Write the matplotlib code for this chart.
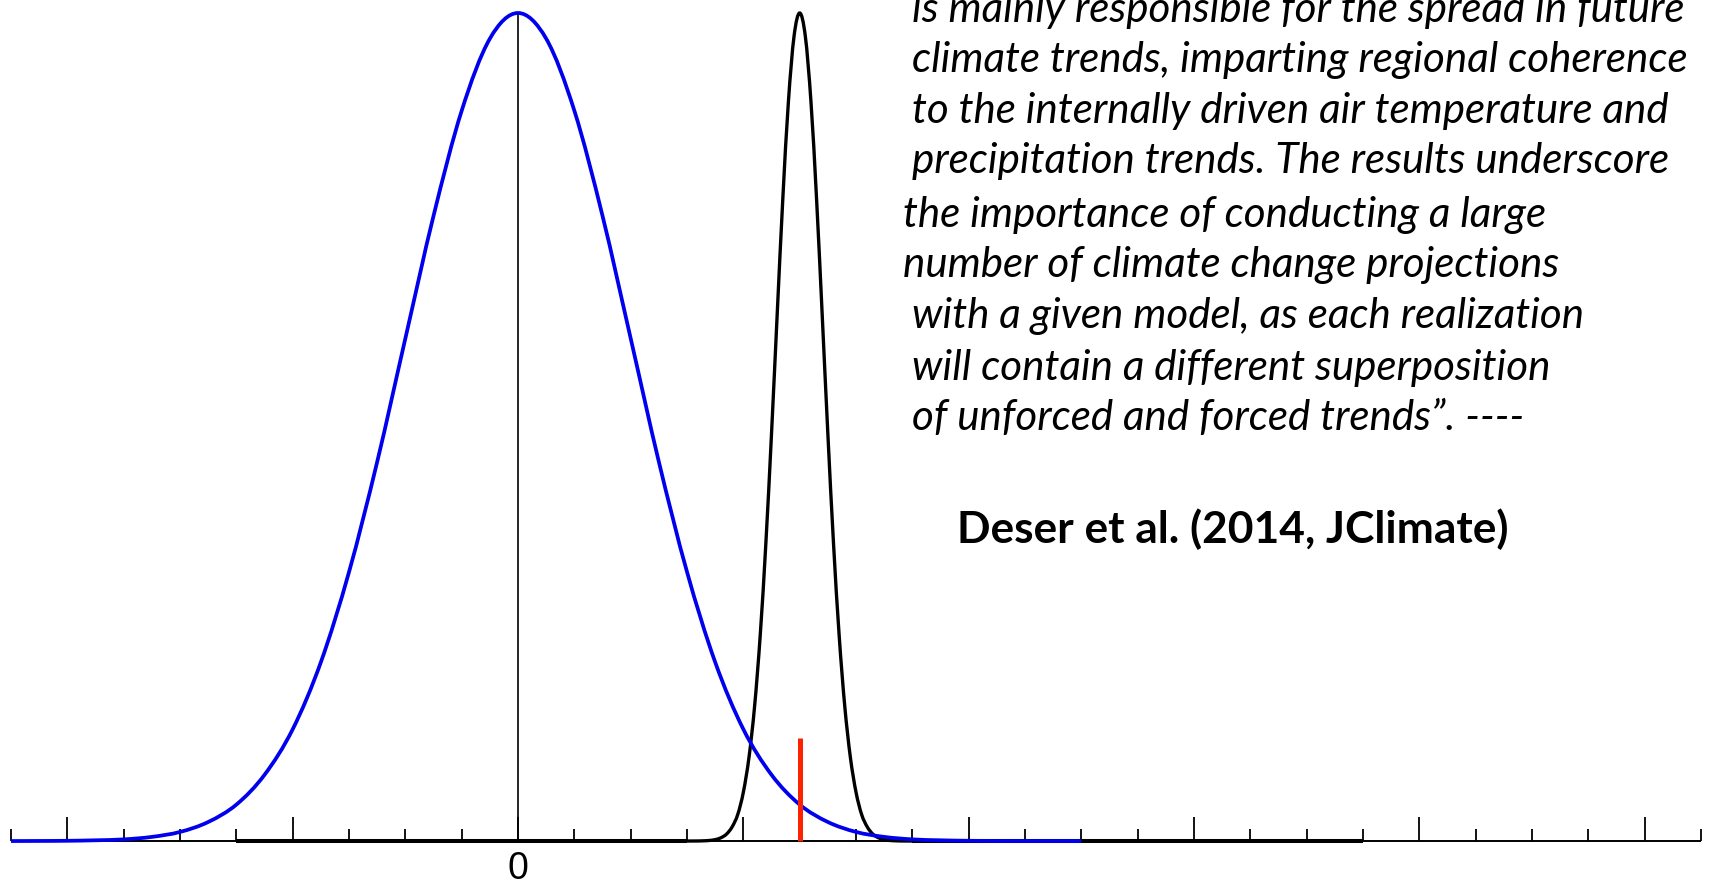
import matplotlib
matplotlib.use("Agg")
from matplotlib import pyplot as plt
from matplotlib.path import Path
from matplotlib.patches import PathPatch

W, H = 1710, 887

# tick positions along the axis (units of one tick step)
tick_pos = list(range(-9, 22))
zero_label = "0"

# blue curve (wide distribution): heights relative to peak, read every half step
blue_x = [-9, -8.5, -8, -7.5, -7, -6.5, -6, -5.5, -5, -4.5, -4, -3.5, -3, -2.5, -2,
          -1.5, -1, -0.5, 0, 0.5, 1, 1.5, 2, 2.5, 3, 3.5, 4, 4.5, 5, 5.5, 6, 6.5,
          7, 7.5, 8, 8.5, 9, 9.5, 10]
blue_y = [0, 0.0001, 0.0003, 0.0009, 0.002, 0.005, 0.011, 0.023, 0.044, 0.080,
          0.135, 0.216, 0.325, 0.458, 0.607, 0.755, 0.882, 0.969, 1.0, 0.969,
          0.882, 0.755, 0.607, 0.458, 0.325, 0.216, 0.135, 0.080, 0.044, 0.023,
          0.011, 0.005, 0.002, 0.0009, 0.0003, 0.0001, 0, 0, 0]

# black curve (narrow distribution): flat from -5 to 3 and from 7 to 15
black_flat = [(-5, 3.0), (7.0, 15)]
black_x = [3.0, 3.1, 3.2, 3.3, 3.4, 3.5, 3.6, 3.7, 3.8, 3.9, 4.0, 4.1, 4.2, 4.3,
           4.4, 4.5, 4.6, 4.7, 4.8, 4.9, 5.0, 5.1, 5.2, 5.3, 5.4, 5.5, 5.6, 5.7,
           5.8, 5.9, 6.0, 6.1, 6.2, 6.3, 6.4, 6.5, 6.6, 6.7, 6.8, 6.9, 7.0]
black_y = [0, 0.00004, 0.0001, 0.0003, 0.0007, 0.0017, 0.0039, 0.0083, 0.017,
           0.032, 0.059, 0.101, 0.163, 0.249, 0.360, 0.492, 0.635, 0.775, 0.893,
           0.972, 1.0, 0.972, 0.893, 0.775, 0.635, 0.492, 0.360, 0.249, 0.163,
           0.101, 0.059, 0.032, 0.017, 0.0083, 0.0039, 0.0017, 0.0007, 0.0003,
           0.0001, 0.00004, 0]

# red marker
red_x = 5
red_h = 0.124

quote_lines = [
    "is mainly responsible for the spread in future",
    "climate trends, imparting regional coherence",
    "to the internally driven air temperature and",
    "precipitation trends. The results underscore",
    "the importance of conducting a large",
    "number of climate change projections",
    "with a given model, as each realization",
    "will contain a different superposition",
    "of unforced and forced trends\u201d. ----",
]
citation = "Deser et al. (2014, JClimate)"


def smooth_path(xs, ys):
    """Smooth bezier path running through the given points."""
    pts = list(zip(xs, ys))
    n = len(pts)
    verts = [pts[0]]
    codes = [Path.MOVETO]
    for i in range(n - 1):
        p0 = pts[max(i - 1, 0)]
        p1 = pts[i]
        p2 = pts[i + 1]
        p3 = pts[min(i + 2, n - 1)]
        c1 = (p1[0] + (p2[0] - p0[0]) / 6, p1[1] + (p2[1] - p0[1]) / 6)
        c2 = (p2[0] - (p3[0] - p1[0]) / 6, p2[1] - (p3[1] - p1[1]) / 6)
        verts += [c1, c2, p2]
        codes += [Path.CURVE4] * 3
    return Path(verts, codes)


fig = plt.figure(figsize=(W / 100, H / 100), dpi=100)
ax = fig.add_axes([0, 0, 1, 1])
ax.set_xlim(-9.196, 21.16)
ax.set_ylim(-0.0543, 1.0169)
ax.axis("off")

# axis line and ticks
ax.hlines(0, tick_pos[0], tick_pos[-1], color="black", lw=1.4, zorder=1)
for k in tick_pos:
    h = 0.029 if k % 4 == 0 else 0.0145
    ax.vlines(k, 0, h, color="black", lw=1.3, zorder=1)
ax.vlines(0, 0, 1, color="black", lw=1.2, zorder=1)

for a, b in black_flat:
    ax.plot([a, b], [0, 0], color="black", lw=2.9, zorder=2, solid_capstyle="butt")
ax.add_patch(PathPatch(smooth_path(black_x, black_y), fill=False,
                       edgecolor="black", lw=2.4, zorder=2))
ax.add_patch(PathPatch(smooth_path(blue_x, blue_y), fill=False,
                       edgecolor="#0000ee", lw=2.7, zorder=3))
ax.vlines(red_x, 0, red_h, color="#ff2200", lw=3.6, zorder=4)

fig.text(518 / W, 0, zero_label, ha="center", va="bottom",
         family="Liberation Sans", fontsize=27)

renderer = fig.canvas.get_renderer()


def fit_size(text, target_px, **kw):
    t = fig.text(0, 0, text, fontsize=40, **kw)
    w = t.get_window_extent(renderer).width
    t.remove()
    return 40 * target_px / w


qsize = fit_size(quote_lines[1], 774, family="Lato", style="italic")
line_x = [912, 912, 912, 912, 903, 903, 912, 912, 912]
line_base = [22, 72, 123, 173, 227, 277, 328, 380, 430]
for s, x, y in zip(quote_lines, line_x, line_base):
    fig.text(x / W, 1 - y / H, s, ha="left", va="baseline", family="Lato",
             style="italic", fontsize=qsize)

csize = fit_size(citation, 551, family="Lato", weight="bold")
fig.text(1233 / W, 1 - 543 / H, citation, ha="center", va="baseline",
         family="Lato", weight="bold", fontsize=csize)

fig.savefig("out.png", dpi=100)
